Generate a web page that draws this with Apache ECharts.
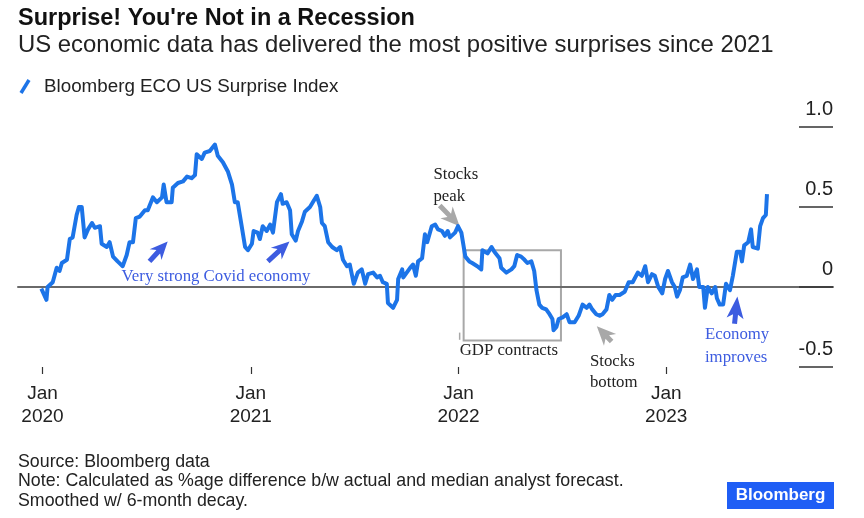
<!DOCTYPE html>
<html>
<head>
<meta charset="utf-8">
<script src="https://cdn.jsdelivr.net/npm/echarts@6/dist/echarts.min.js"></script>
<style>
  html, body { margin: 0; padding: 0; background: #fff; }
  #chart { width: 864px; height: 518px; }
</style>
</head>
<body>
<div id="chart"></div>
<script>
// Bloomberg ECO US Surprise Index
var surprise2020 = [
  ['2019-12-30', -0.01], ['2020-01-08', -0.08], ['2020-01-10', 0.00], ['2020-01-19', 0.03],
  ['2020-01-26', 0.12], ['2020-01-31', 0.10], ['2020-02-04', 0.15], ['2020-02-13', 0.17],
  ['2020-02-18', 0.30], ['2020-02-23', 0.31], ['2020-03-01', 0.45], ['2020-03-05', 0.50],
  ['2020-03-10', 0.50], ['2020-03-15', 0.31], ['2020-03-21', 0.36], ['2020-03-28', 0.40],
  ['2020-04-02', 0.37], ['2020-04-11', 0.38], ['2020-04-14', 0.27], ['2020-04-23', 0.25],
  ['2020-04-28', 0.28], ['2020-05-04', 0.19], ['2020-05-12', 0.16], ['2020-05-21', 0.13],
  ['2020-05-28', 0.20], ['2020-06-02', 0.28], ['2020-06-08', 0.28], ['2020-06-13', 0.43],
  ['2020-06-20', 0.44], ['2020-06-29', 0.48], ['2020-07-04', 0.48], ['2020-07-13', 0.56],
  ['2020-07-20', 0.53], ['2020-07-29', 0.56], ['2020-08-01', 0.64], ['2020-08-06', 0.53],
  ['2020-08-15', 0.53], ['2020-08-17', 0.62], ['2020-08-26', 0.65], ['2020-09-04', 0.66],
  ['2020-09-11', 0.69], ['2020-09-19', 0.68], ['2020-09-25', 0.70], ['2020-09-28', 0.83],
  ['2020-10-07', 0.80], ['2020-10-12', 0.84], ['2020-10-21', 0.85], ['2020-10-30', 0.89],
  ['2020-11-04', 0.82], ['2020-11-13', 0.78], ['2020-11-22', 0.72], ['2020-11-29', 0.64],
  ['2020-12-04', 0.53], ['2020-12-09', 0.53], ['2020-12-16', 0.38], ['2020-12-22', 0.25],
  ['2020-12-27', 0.23]
];
var surprise2021 = [
  ['2021-01-03', 0.27], ['2021-01-06', 0.35], ['2021-01-13', 0.34], ['2021-01-17', 0.30],
  ['2021-01-22', 0.38], ['2021-01-29', 0.35], ['2021-02-04', 0.39], ['2021-02-09', 0.34],
  ['2021-02-16', 0.53], ['2021-02-23', 0.58], ['2021-02-26', 0.52], ['2021-03-05', 0.53],
  ['2021-03-11', 0.48], ['2021-03-14', 0.33], ['2021-03-21', 0.29], ['2021-03-25', 0.35],
  ['2021-04-01', 0.41], ['2021-04-06', 0.47], ['2021-04-15', 0.50], ['2021-04-20', 0.53],
  ['2021-04-27', 0.57], ['2021-05-03', 0.50], ['2021-05-06', 0.40], ['2021-05-11', 0.38],
  ['2021-05-17', 0.28], ['2021-05-24', 0.25], ['2021-06-01', 0.23], ['2021-06-07', 0.25],
  ['2021-06-12', 0.17], ['2021-06-19', 0.13], ['2021-06-24', 0.14], ['2021-07-01', 0.02],
  ['2021-07-08', 0.09], ['2021-07-15', 0.11], ['2021-07-21', 0.02], ['2021-07-26', 0.08],
  ['2021-08-04', 0.09], ['2021-08-11', 0.06], ['2021-08-16', 0.07], ['2021-08-21', 0.03],
  ['2021-08-28', 0.02], ['2021-08-30', -0.10], ['2021-09-08', -0.13], ['2021-09-15', -0.08],
  ['2021-09-17', 0.05], ['2021-09-24', 0.11], ['2021-09-26', 0.06], ['2021-10-02', 0.09],
  ['2021-10-08', 0.12], ['2021-10-13', 0.14], ['2021-10-18', 0.07], ['2021-10-22', 0.16],
  ['2021-10-29', 0.18], ['2021-11-03', 0.33], ['2021-11-07', 0.28], ['2021-11-15', 0.38],
  ['2021-11-21', 0.39], ['2021-11-26', 0.36], ['2021-12-03', 0.35], ['2021-12-08', 0.32],
  ['2021-12-13', 0.35], ['2021-12-17', 0.31], ['2021-12-26', 0.34], ['2021-12-31', 0.38]
];
var surprise2022 = [
  ['2022-01-06', 0.34], ['2022-01-09', 0.34], ['2022-01-13', 0.19], ['2022-01-20', 0.16],
  ['2022-01-25', 0.15], ['2022-02-03', 0.13], ['2022-02-10', 0.11], ['2022-02-12', 0.23],
  ['2022-02-21', 0.21], ['2022-02-28', 0.25], ['2022-03-05', 0.22], ['2022-03-14', 0.18],
  ['2022-03-17', 0.12], ['2022-03-26', 0.09], ['2022-04-04', 0.11], ['2022-04-09', 0.13],
  ['2022-04-14', 0.20], ['2022-04-21', 0.19], ['2022-04-27', 0.17], ['2022-05-02', 0.15],
  ['2022-05-09', 0.16], ['2022-05-14', 0.10], ['2022-05-18', -0.02], ['2022-05-23', -0.11],
  ['2022-05-28', -0.13], ['2022-06-04', -0.14], ['2022-06-10', -0.17], ['2022-06-15', -0.20],
  ['2022-06-17', -0.27], ['2022-06-22', -0.25], ['2022-06-26', -0.20], ['2022-07-03', -0.19],
  ['2022-07-10', -0.17], ['2022-07-15', -0.22], ['2022-07-24', -0.22], ['2022-07-31', -0.18],
  ['2022-08-07', -0.11], ['2022-08-14', -0.13], ['2022-08-19', -0.11], ['2022-08-24', -0.14],
  ['2022-08-31', -0.17], ['2022-09-06', -0.18], ['2022-09-11', -0.17], ['2022-09-18', -0.14],
  ['2022-09-23', -0.05], ['2022-09-28', -0.08], ['2022-10-04', -0.05], ['2022-10-11', -0.05],
  ['2022-10-20', -0.03], ['2022-10-27', 0.03], ['2022-11-03', 0.03], ['2022-11-12', 0.09],
  ['2022-11-19', 0.07], ['2022-11-25', 0.13], ['2022-11-30', 0.03], ['2022-12-07', 0.08],
  ['2022-12-12', 0.07], ['2022-12-18', 0.00], ['2022-12-25', -0.04], ['2022-12-30', 0.05]
];
var surprise2023 = [
  ['2023-01-04', 0.10], ['2023-01-11', 0.03], ['2023-01-16', 0.00], ['2023-01-20', -0.06],
  ['2023-01-25', -0.02], ['2023-01-30', 0.06], ['2023-02-06', 0.07], ['2023-02-12', 0.14],
  ['2023-02-17', 0.05], ['2023-02-24', 0.11], ['2023-02-28', 0.00], ['2023-03-07', 0.00],
  ['2023-03-10', -0.13], ['2023-03-15', 0.00], ['2023-03-22', -0.04], ['2023-03-28', 0.00],
  ['2023-03-31', -0.07], ['2023-04-05', -0.11], ['2023-04-11', -0.11], ['2023-04-16', 0.02],
  ['2023-04-23', -0.02], ['2023-04-28', 0.07], ['2023-05-05', 0.22], ['2023-05-11', 0.22],
  ['2023-05-14', 0.16], ['2023-05-18', 0.26], ['2023-05-25', 0.28], ['2023-05-30', 0.36],
  ['2023-06-02', 0.25], ['2023-06-11', 0.24], ['2023-06-15', 0.38], ['2023-06-20', 0.43],
  ['2023-06-25', 0.45], ['2023-06-27', 0.58]
];

var xTickDates = ['2020-01-01', '2021-01-01', '2022-01-01', '2023-01-01'];
var xTickLabels = ['Jan\n2020', 'Jan\n2021', 'Jan\n2022', 'Jan\n2023'];
var yTickLabels = { '-0.5': '-0.5', '0': '0', '0.5': '0.5', '1': '1.0' };

var seriesName = 'Bloomberg ECO US Surprise Index';
var BLUE = '#1c74e8';
var NOTE_BLUE = '#3d5ce0';
var GREY = '#a8a8a8';
var SANS = '"Liberation Sans", Arial, sans-serif';
var SERIF = '"Liberation Serif", "Times New Roman", serif';

var t = echarts.time.parse;
var tickTimes = xTickDates.map(function (d) { return +t(d); });
var xMin = +t('2019-11-19');
var xMax = +t('2023-10-21');
var lineData = [].concat(surprise2020, surprise2021, surprise2022, surprise2023)
  .map(function (d) { return [+t(d[0]), d[1]]; });

var myChart = echarts.init(document.getElementById('chart'));

var option = {
  animation: false,
  backgroundColor: '#fff',
  grid: { left: 18, right: 31, top: 127, bottom: 151 },
  xAxis: [
    {
      type: 'value',
      position: 'bottom',
      min: xMin,
      max: xMax,
      axisLine: { show: false, onZero: false },
      splitLine: { show: false },
      axisTick: {
        show: true,
        length: 7,
        customValues: tickTimes,
        lineStyle: { color: '#333', width: 1.2 }
      },
      axisLabel: {
        customValues: tickTimes,
        margin: 15,
        fontFamily: SANS,
        fontSize: 19,
        lineHeight: 23.5,
        color: '#222',
        formatter: function (val) {
          var i = tickTimes.indexOf(+val);
          return i >= 0 ? xTickLabels[i] : '';
        }
      }
    },
    {
      // zero line across the plot
      type: 'value',
      position: 'top',
      min: xMin,
      max: xMax,
      axisLine: { show: true, onZero: true, lineStyle: { color: '#6a6a6a', width: 2 } },
      axisTick: { show: false },
      axisLabel: { show: false },
      splitLine: { show: false }
    }
  ],
  yAxis: {
    type: 'value',
    position: 'right',
    min: -0.5,
    max: 1.0,
    interval: 0.5,
    axisLine: { show: false },
    splitLine: { show: false },
    axisTick: {
      show: true,
      inside: true,
      length: 34,
      lineStyle: { color: '#333', width: 1.5 }
    },
    axisLabel: {
      inside: true,
      margin: 0,
      verticalAlign: 'bottom',
      padding: [0, 0, 8, 0],
      fontFamily: SANS,
      fontSize: 20,
      color: '#222',
      formatter: function (v) { return yTickLabels[String(v)]; }
    }
  },
  series: [
    {
      name: seriesName,
      type: 'line',
      xAxisIndex: 0,
      data: lineData,
      showSymbol: false,
      z: 3,
      lineStyle: { color: BLUE, width: 4, join: 'round' },
      itemStyle: { color: BLUE }
    }
  ]
};

myChart.setOption(option);

// annotation placement in data terms
var notes = [
  { at: ['2020-05-19', 0.066], text: 'Very strong Covid economy', color: NOTE_BLUE },
  { at: ['2021-11-18', 0.70], text: 'Stocks', color: '#222' },
  { at: ['2021-11-18', 0.565], text: 'peak', color: '#222' },
  { at: ['2022-01-03', -0.40], text: 'GDP contracts', color: '#222' },
  { at: ['2022-08-20', -0.465], text: 'Stocks', color: '#222' },
  { at: ['2022-08-20', -0.60], text: 'bottom', color: '#222' },
  { at: ['2023-03-10', -0.30], text: 'Economy', color: NOTE_BLUE },
  { at: ['2023-03-10', -0.44], text: 'improves', color: NOTE_BLUE }
];
var arrows = [
  { from: ['2020-07-07', 0.16], to: ['2020-08-08', 0.285], color: NOTE_BLUE, shaft: 2.5, head: 8, headLen: 14 },
  { from: ['2021-01-31', 0.16], to: ['2021-03-10', 0.285], color: NOTE_BLUE, shaft: 2.5, head: 8, headLen: 14 },
  { from: ['2021-11-29', 0.51], to: ['2022-01-03', 0.38], color: GREY, shaft: 2.5, head: 8.5, headLen: 15 },
  { from: ['2022-09-27', -0.34], to: ['2022-09-01', -0.245], color: GREY, shaft: 2.5, head: 8.5, headLen: 15 },
  { from: ['2023-05-01', -0.23], to: ['2023-05-06', -0.06], color: NOTE_BLUE, shaft: 2.5, head: 8.5, headLen: 18 }
];
var gdpBox = { from: ['2022-01-10', 0.23], to: ['2022-06-30', -0.335] };
var gdpPointer = { from: ['2022-01-03', -0.33], to: ['2022-01-03', -0.285] };

function px(p) {
  return myChart.convertToPixel({ xAxisIndex: 0, yAxisIndex: 0 }, [+t(p[0]), p[1]]);
}

function arrowPoints(a, b, shaft, head, headLen) {
  var dx = b[0] - a[0], dy = b[1] - a[1];
  var len = Math.sqrt(dx * dx + dy * dy);
  var ux = dx / len, uy = dy / len, nx = -uy, ny = ux;
  var bx = b[0] - ux * headLen, by = b[1] - uy * headLen;
  var back = 4;
  return [
    [b[0], b[1]],
    [bx - ux * back + nx * head, by - uy * back + ny * head],
    [bx + nx * shaft, by + ny * shaft],
    [a[0] + nx * shaft, a[1] + ny * shaft],
    [a[0] - nx * shaft, a[1] - ny * shaft],
    [bx - nx * shaft, by - ny * shaft],
    [bx - ux * back - nx * head, by - uy * back - ny * head]
  ];
}

var graphics = [
  {
    type: 'text', left: 18, top: 7,
    style: { text: "Surprise! You're Not in a Recession", font: 'bold 23.5px ' + SANS, fill: '#111' }
  },
  {
    type: 'text', left: 18, top: 33,
    style: { text: 'US economic data has delivered the most positive surprises since 2021', font: '23.9px ' + SANS, fill: '#222' }
  },
  {
    type: 'line',
    shape: { x1: 21, y1: 93, x2: 29, y2: 80 },
    style: { stroke: BLUE, lineWidth: 3.5 }
  },
  {
    type: 'text', left: 44, top: 77,
    style: { text: seriesName, font: '18.8px ' + SANS, fill: '#222' }
  },
  {
    type: 'text', left: 18, top: 453,
    style: { text: 'Source: Bloomberg data', font: '17.8px ' + SANS, fill: '#222' }
  },
  {
    type: 'text', left: 18, top: 472.5,
    style: { text: 'Note: Calculated as %age difference b/w actual and median analyst forecast.', font: '17.8px ' + SANS, fill: '#222' }
  },
  {
    type: 'text', left: 18, top: 492,
    style: { text: 'Smoothed w/ 6-month decay.', font: '17.8px ' + SANS, fill: '#222' }
  },
  {
    type: 'rect',
    shape: { x: 727, y: 482, width: 107, height: 27 },
    style: { fill: '#1f5ef5' }
  },
  {
    type: 'text', x: 780.5, y: 495.5,
    style: { text: 'Bloomberg', font: 'bold 17px ' + SANS, fill: '#fff', align: 'center', verticalAlign: 'middle' }
  }
];

notes.forEach(function (n) {
  var p = px(n.at);
  graphics.push({
    type: 'text', x: p[0], y: p[1],
    style: { text: n.text, font: '16.8px ' + SERIF, fill: n.color, align: 'left', verticalAlign: 'middle' }
  });
});

arrows.forEach(function (a) {
  graphics.push({
    type: 'polygon',
    shape: { points: arrowPoints(px(a.from), px(a.to), a.shaft, a.head, a.headLen) },
    style: { fill: a.color }
  });
});

var b0 = px(gdpBox.from), b1 = px(gdpBox.to);
graphics.push({
  type: 'rect',
  shape: { x: b0[0], y: b0[1], width: b1[0] - b0[0], height: b1[1] - b0[1] },
  style: { fill: 'none', stroke: GREY, lineWidth: 2 }
});
var g0 = px(gdpPointer.from), g1 = px(gdpPointer.to);
graphics.push({
  type: 'line',
  shape: { x1: g0[0], y1: g0[1], x2: g1[0], y2: g1[1] },
  style: { stroke: GREY, lineWidth: 1.5 }
});

myChart.setOption({ graphic: graphics });
</script>
</body>
</html>
